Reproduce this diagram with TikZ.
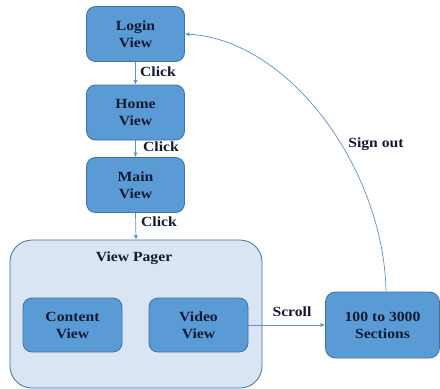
\documentclass[tikz,border=0pt]{standalone}
\usepackage{fontspec}
\setmainfont{Liberation Serif}[FakeStretch=1.12]
\usetikzlibrary{arrows.meta}
\definecolor{boxfill}{HTML}{5B9BD5}
\definecolor{boxline}{HTML}{41719C}
\definecolor{pagerfill}{HTML}{DAE5F3}
\definecolor{linkcol}{HTML}{5F8FC8}
\definecolor{inkcol}{HTML}{121A33}
\tikzset{
  viewbox/.style={draw=boxline, line width=0.8pt, fill=boxfill, rounded corners=9pt,
    text=inkcol, font=\fontsize{14}{17}\selectfont\bfseries, align=center,
    minimum width=98pt, minimum height=55pt, inner sep=0pt},
  pagerbox/.style={draw=boxline, line width=0.8pt, fill=pagerfill, rounded corners=22pt,
    minimum width=252pt, minimum height=148pt, inner sep=0pt},
  link/.style={draw=linkcol, line width=0.7pt, -{Latex[length=4.5pt,width=4pt]}},
  tag/.style={text=inkcol, font=\fontsize{14}{17}\selectfont\bfseries, inner sep=0pt}
}
\begin{document}
\begin{tikzpicture}[x=1pt, y=-1pt]
\useasboundingbox (0,0) rectangle (440,389);
% main flow
\node[viewbox] (login) at (135.5,34) {Login\\View};
\node[viewbox] (home) at (135.5,112.5) {Home\\View};
\node[viewbox] (main) at (135.5,185) {Main\\View};
% pager container with its two pages
\node[pagerbox] (pager) at (136,314) {};
\node[tag] (pagertitle) at (134,258) {View Pager};
\node[viewbox, minimum width=99pt, minimum height=54pt] (content) at (72.5,325) {Content\\View};
\node[viewbox, minimum width=99pt, minimum height=54pt] (video) at (198.5,325) {Video\\View};
% sections box
\node[viewbox, minimum width=114pt, minimum height=66pt, rounded corners=10pt] (sections) at (382.5,325) {100 to 3000\\Sections};
% connectors
\draw[link] (login.south) -- (home.north);
\draw[link] (home.south) -- (main.north);
\draw[link] (main.south) -- (pager.north);
\draw[link] (video.east) -- (sections.west);
\draw[link] ([xshift=3.5pt]sections.north) .. controls (384,170) and (290,40) .. (login.east);
% labels
\node[tag] (click1) at (158,72) {Click};
\node[tag] (click2) at (161,147) {Click};
\node[tag] (click3) at (159,222) {Click};
\node[tag] (scroll) at (292,312) {Scroll};
\node[tag] (signout) at (376,144) {Sign out};
\end{tikzpicture}
\end{document}
